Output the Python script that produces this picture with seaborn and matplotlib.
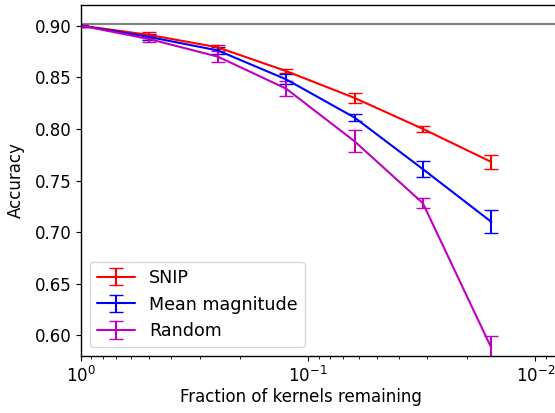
import seaborn as sns
import matplotlib
matplotlib.use("Agg")
import matplotlib.pyplot as plt

# fraction of kernels kept
fractions = [1.0, 0.5, 0.25, 0.125, 0.0625, 0.03125, 0.015625]

snip_acc = [0.900, 0.891, 0.879, 0.856, 0.830, 0.800, 0.768]
snip_err = [0.001, 0.003, 0.002, 0.002, 0.0045, 0.003, 0.007]

magnitude_acc = [0.900, 0.889, 0.876, 0.848, 0.811, 0.761, 0.710]
magnitude_err = [0.001, 0.003, 0.003, 0.005, 0.0035, 0.008, 0.011]

random_acc = [0.900, 0.887, 0.870, 0.839, 0.788, 0.728, 0.588]
random_err = [0.001, 0.003, 0.005, 0.007, 0.0105, 0.005, 0.011]

baseline = 0.9015

sns.set_theme(style="ticks", color_codes=False, rc={
    "text.color": "black", "axes.labelcolor": "black",
    "xtick.color": "black", "ytick.color": "black",
    "axes.edgecolor": "black", "axes.linewidth": 1.0,
    "xtick.major.size": 3.5, "ytick.major.size": 3.5,
    "xtick.minor.size": 2, "xtick.major.width": 0.8,
    "ytick.major.width": 0.8, "xtick.minor.width": 0.6,
})
plt.rcParams["font.family"] = ["DejaVu Sans"]

fig = plt.figure(figsize=(5.55, 4.13), dpi=100)
ax = fig.add_axes([81 / 555, 57 / 413, 477 / 555, 351 / 413])

ax.axhline(baseline, color="gray", lw=1.5)
ax.errorbar(fractions, snip_acc, yerr=snip_err, color="#ff0000", lw=1.5, capsize=5, label="SNIP")
ax.errorbar(fractions, magnitude_acc, yerr=magnitude_err, color="#0000ff", lw=1.5, capsize=5, label="Mean magnitude")
ax.errorbar(fractions, random_acc, yerr=random_err, color="#bf00bf", lw=1.5, capsize=5, label="Random")

ax.set_xscale("log")
ax.set_xlim(1, 10 ** -2.1)
ax.set_ylim(0.58, 0.92)
ax.set_yticks([0.60, 0.65, 0.70, 0.75, 0.80, 0.85, 0.90])
ax.tick_params(labelsize=12)
ax.set_xlabel("Fraction of kernels remaining", fontsize=12)
ax.set_ylabel("Accuracy", fontsize=12)
ax.xaxis.set_label_coords(0.462, -0.09)
ax.yaxis.set_label_coords(-0.118, 0.5)
ax.legend(loc="lower left", fontsize=12.6, handlelength=2.2)

fig.savefig("out.png", dpi=100)
